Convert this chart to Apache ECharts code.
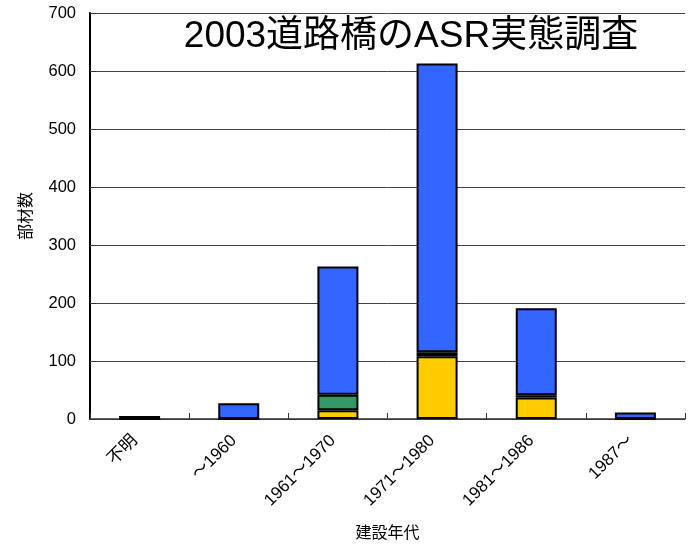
<!DOCTYPE html>
<html>
<head>
<meta charset="utf-8">
<script src="https://cdn.jsdelivr.net/npm/echarts@6/dist/echarts.min.js"></script>
<style>
  html, body { margin: 0; padding: 0; background: #fff; }
  #chart { width: 691px; height: 547px; }
</style>
</head>
<body>
<div id="chart"></div>
<script>
// Construction period of each member group
const categories = ['不明', '～1960', '1961～1970', '1971～1980', '1981～1986', '1987～'];

// Member counts per period, stacked bottom to top
const seriesYellow = [0, 0, 15, 108, 37, 0];
const seriesGreen  = [0, 0, 27, 7, 4, 0];
const seriesBlue   = [5, 27, 221, 498, 150, 11];

const yTicks = [0, 100, 200, 300, 400, 500, 600, 700];

const FONT = '"Liberation Sans", "Noto Sans CJK JP", sans-serif';

const chart = echarts.init(document.getElementById('chart'));

function bar(name, data, color) {
  return {
    name: name,
    type: 'bar',
    stack: 'total',
    data: data,
    barWidth: 41,
    itemStyle: { color: color, borderColor: '#000', borderWidth: 2 },
    emphasis: { disabled: true },
    animation: false
  };
}

chart.setOption({
  backgroundColor: '#fff',
  animation: false,
  title: {
    text: '2003道路橋のASR実態調査',
    left: 406,
    top: 13,
    textAlign: 'center',
    textStyle: { fontFamily: FONT, fontSize: 37, fontWeight: 'normal', color: '#000' }
  },
  grid: { left: 90, right: 6, top: 13, bottom: 127 },
  xAxis: {
    type: 'category',
    data: categories,
    name: '建設年代',
    nameLocation: 'middle',
    nameGap: 107,
    nameTextStyle: { fontFamily: FONT, fontSize: 16, color: '#000' },
    axisLine: { lineStyle: { color: '#333', width: 1.5 } },
    axisTick: { show: true, inside: true, length: 6, alignWithLabel: false, lineStyle: { color: '#333' } },
    axisLabel: {
      rotate: 45,
      margin: 14,
      padding: [0, 7, 0, 0],
      fontFamily: FONT,
      fontSize: 17,
      color: '#000'
    },
    splitLine: { show: false }
  },
  yAxis: {
    type: 'value',
    min: yTicks[0],
    max: yTicks[yTicks.length - 1],
    interval: 100,
    name: '部材数',
    nameLocation: 'middle',
    nameGap: 55,
    nameRotate: 90,
    nameTextStyle: { fontFamily: FONT, fontSize: 16, color: '#000' },
    axisLine: { show: true, lineStyle: { color: '#000', width: 2 } },
    axisTick: { show: true, inside: true, length: 6, lineStyle: { color: '#333' } },
    axisLabel: { margin: 14, fontFamily: FONT, fontSize: 16.5, color: '#000' },
    splitLine: { show: true, lineStyle: { color: '#444', width: 1 } }
  },
  series: [
    bar('yellow', seriesYellow, '#FFCC00'),
    bar('green', seriesGreen, '#339966'),
    bar('blue', seriesBlue, '#3366FF')
  ]
});
</script>
</body>
</html>
